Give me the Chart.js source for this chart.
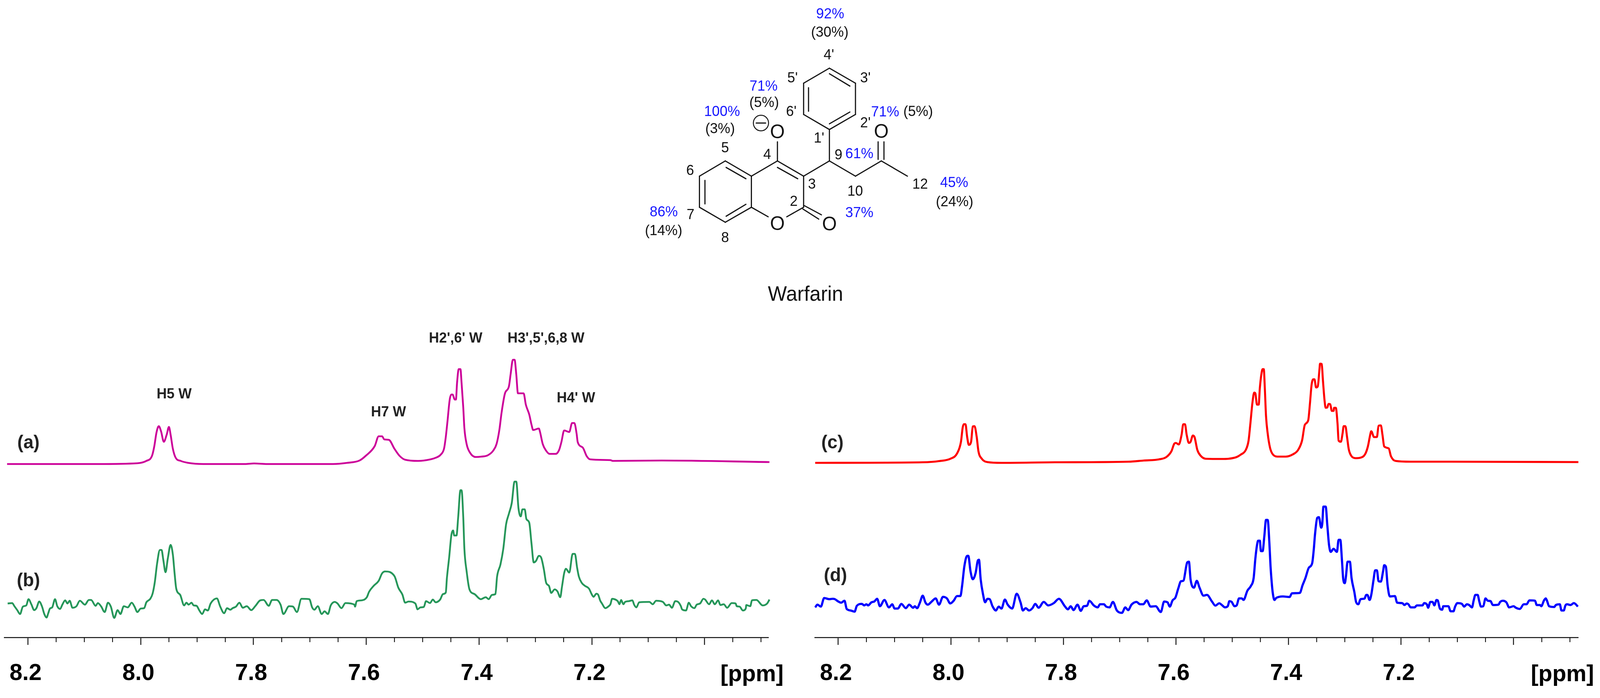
<!DOCTYPE html>
<html><head><meta charset="utf-8">
<style>
html,body{margin:0;padding:0;background:#fff;height:1787px;overflow:hidden}
canvas{position:absolute}
svg{position:absolute;left:0;top:0}
</style>
<script src="https://cdn.jsdelivr.net/npm/chart.js@4"></script>
</head><body>
<canvas id="left"></canvas>
<canvas id="right"></canvas>
<svg id="art" viewBox="0 0 4217 1787" preserveAspectRatio="none" xmlns="http://www.w3.org/2000/svg"></svg>
<script>
// [ppm, intensity]
const traceA=[[8.237,444],[8.076,444],[8.006,446],[7.990,452],[7.980,465],[7.976,489],[7.972,525],[7.968,541],[7.964,528],[7.959,501],[7.954,519],[7.950,539],[7.947,519],[7.943,483],[7.938,460],[7.929,452],[7.916,447],[7.889,444],[7.815,444],[7.799,445.5],[7.776,444],[7.659,444],[7.634,447],[7.612,453],[7.601,465],[7.585,490],[7.578,515],[7.572,515],[7.568,507],[7.560,506],[7.550,483],[7.541,465],[7.531,455],[7.508,452],[7.486,456],[7.477,460],[7.468,468],[7.462,484],[7.459,513],[7.456,553],[7.452,609],[7.449,622],[7.447,622],[7.443,609],[7.441,609],[7.439,652],[7.436,687],[7.433,687],[7.431,652],[7.428,589],[7.426,536],[7.422,495],[7.416,473],[7.406,462],[7.396,463],[7.385,466],[7.375,478],[7.369,495],[7.364,531],[7.360,576],[7.354,625],[7.347,643],[7.344,674],[7.340,711],[7.337,711],[7.334,674],[7.331,625],[7.321,625],[7.317,596],[7.311,571],[7.307,545],[7.304,531],[7.294,535],[7.292,527],[7.287,495],[7.281,478],[7.275,470],[7.264,470],[7.258,480],[7.254,500],[7.249,530],[7.240,526],[7.235,549],[7.231,549],[7.227,522],[7.225,500],[7.216,486],[7.209,464],[7.203,456],[7.167,454],[7.163,452],[7.076,453],[6.885,449]];
const traceB=[[8.236,87],[8.228,88],[8.224,80],[8.219,70],[8.214,60],[8.209,79],[8.203,82],[8.199,98],[8.194,85],[8.189,70],[8.185,75],[8.180,92],[8.175,79],[8.171,60],[8.167,51],[8.164,62],[8.161,74],[8.157,77],[8.152,98],[8.148,80],[8.143,73],[8.139,84],[8.134,95],[8.130,87],[8.126,94],[8.121,76],[8.114,80],[8.108,94],[8.099,84],[8.092,96],[8.088,96],[8.080,81],[8.076,88],[8.070,79],[8.064,65],[8.058,89],[8.053,79],[8.047,50],[8.041,70],[8.036,60],[8.030,80],[8.023,77],[8.016,89],[8.011,79],[8.006,65],[8.000,74],[7.994,75],[7.990,90],[7.983,99],[7.979,112],[7.975,142],[7.971,189],[7.966,224],[7.963,224],[7.960,199],[7.956,167],[7.952,202],[7.947,237],[7.943,212],[7.940,165],[7.937,125],[7.930,109],[7.923,82],[7.919,89],[7.915,84],[7.910,89],[7.906,82],[7.901,81],[7.896,69],[7.891,60],[7.886,72],[7.881,69],[7.876,87],[7.865,100],[7.859,79],[7.852,62],[7.847,75],[7.841,71],[7.837,75],[7.831,79],[7.825,89],[7.819,76],[7.812,80],[7.804,70],[7.797,80],[7.788,95],[7.782,96],[7.773,81],[7.767,96],[7.759,96],[7.752,84],[7.747,60],[7.737,80],[7.730,79],[7.723,65],[7.715,99],[7.701,98],[7.696,77],[7.692,71],[7.686,80],[7.679,60],[7.674,67],[7.668,60],[7.663,82],[7.656,91],[7.651,87],[7.644,75],[7.637,88],[7.621,84],[7.620,79],[7.617,93],[7.608,95],[7.599,103],[7.595,117],[7.587,132],[7.578,145],[7.572,164],[7.5665,169],[7.550,157],[7.543,127],[7.536,110],[7.531,89],[7.525,92],[7.513,87],[7.509,72],[7.504,77],[7.498,78],[7.494,93],[7.487,88],[7.482,97],[7.477,90],[7.469,97],[7.464,111],[7.459,115],[7.457,152],[7.453,205],[7.449,263],[7.446,274],[7.444,261],[7.440,261],[7.437,308],[7.433,377],[7.431,377],[7.428,308],[7.426,227],[7.422,169],[7.417,123],[7.408,111],[7.397,98],[7.388,103],[7.383,98],[7.377,109],[7.371,111],[7.368,156],[7.362,187],[7.357,227],[7.352,290],[7.347,317],[7.342,344],[7.337,399],[7.334,399],[7.330,330],[7.326,310],[7.323,328],[7.319,328],[7.316,303],[7.311,294],[7.307,241],[7.303,192],[7.299,196],[7.294,209],[7.290,205],[7.285,174],[7.281,140],[7.276,132],[7.272,114],[7.266,123],[7.261,118],[7.256,103],[7.253,129],[7.249,165],[7.246,176],[7.240,166],[7.234,214],[7.230,214],[7.226,178],[7.223,156],[7.218,140],[7.212,132],[7.205,125],[7.200,110],[7.197,104],[7.192,112],[7.189,110],[7.185,94],[7.182,87],[7.176,75],[7.171,79],[7.167,85],[7.164,99],[7.160,98],[7.154,93],[7.151,85],[7.148,96],[7.144,85],[7.141,91],[7.134,93],[7.128,95],[7.125,84],[7.121,77],[7.116,90],[7.098,91],[7.092,85],[7.086,94],[7.074,91],[7.068,82],[7.063,84],[7.058,76],[7.052,93],[7.047,91],[7.042,80],[7.040,72],[7.033,69],[7.028,89],[7.024,80],[7.018,75],[7.014,84],[7.008,87],[7.002,99],[6.999,97],[6.992,85],[6.987,95],[6.982,85],[6.976,95],[6.972,83],[6.966,85],[6.960,76],[6.952,88],[6.945,87],[6.943,80],[6.938,79],[6.932,69],[6.927,74],[6.926,83],[6.919,80],[6.916,95],[6.908,96],[6.897,82],[6.889,87],[6.885,97]];
const traceC=[[8.241,447],[8.050,448.5],[8.021,451.5],[8.000,458],[7.989,471],[7.982,501],[7.979,537],[7.977,546],[7.974,546],[7.971,513],[7.968,493],[7.964,501],[7.961,540],[7.958,541],[7.954,513],[7.951,477],[7.945,457.5],[7.935,449],[7.910,447],[7.815,448.5],[7.684,450],[7.657,453],[7.630,456],[7.617,462],[7.608,477],[7.603,496],[7.600,498],[7.595,494],[7.590,519],[7.587,546],[7.584,546],[7.581,519],[7.577,498],[7.574,501],[7.570,517],[7.567,513],[7.562,480],[7.556,465],[7.547,457.5],[7.518,457],[7.507,457.5],[7.492,462],[7.485,468],[7.476,480],[7.471,504],[7.468,544.5],[7.464,602.5],[7.461,627],[7.459,625],[7.456,596],[7.453,596],[7.451,638],[7.448,676],[7.446,687],[7.444,687],[7.442,634],[7.440,567],[7.437,522],[7.433,486.5],[7.429,471],[7.420,463],[7.405,463],[7.392,469],[7.383,480],[7.376,504],[7.371,544.5],[7.365,556],[7.362,598],[7.359,647],[7.356,661],[7.354,661],[7.351,640],[7.348,643],[7.345,687],[7.344,701],[7.341,700],[7.339,661],[7.336,607],[7.334,588],[7.331,589],[7.329,598],[7.326,597],[7.323,580],[7.320,580],[7.319,588],[7.316,588],[7.313,549],[7.311,504],[7.307,501],[7.304,522],[7.302,541],[7.299,541],[7.296,513],[7.293,482],[7.289,466],[7.281,459],[7.273,460],[7.264,469],[7.259,489],[7.255,518],[7.253,528],[7.248,513],[7.243,513],[7.240,542],[7.236,543],[7.233,518],[7.230,489],[7.222,484],[7.218,464],[7.210,452],[7.183,450],[7.114,450],[6.885,449]];
const traceD=[[8.241,77],[8.237,84],[8.231,79],[8.225,101],[8.216,98],[8.210,99],[8.206,98],[8.201,93],[8.195,89],[8.189,94],[8.185,73],[8.178,69],[8.171,66],[8.167,81],[8.158,86],[8.154,82],[8.150,85],[8.147,82],[8.141,90],[8.136,92],[8.131,99],[8.126,80],[8.118,96],[8.110,77],[8.104,85],[8.100,74],[8.094,74],[8.088,86],[8.080,75],[8.074,84],[8.067,76],[8.064,80],[8.060,75],[8.055,89],[8.050,107],[8.045,89],[8.041,84],[8.034,92],[8.027,100],[8.021,84],[8.014,104],[8.007,100],[8.001,87],[7.995,94],[7.989,106],[7.983,106],[7.980,132],[7.976,182],[7.971,209],[7.969,209],[7.965,169],[7.961,149],[7.956,165],[7.952,197],[7.950,199],[7.947,149],[7.943,112],[7.939,90],[7.935,99],[7.931,98],[7.926,80],[7.920,69],[7.915,79],[7.910,74],[7.904,97],[7.899,84],[7.891,74],[7.883,112],[7.876,89],[7.872,69],[7.867,75],[7.861,69],[7.855,75],[7.850,86],[7.844,76],[7.835,91],[7.827,82],[7.817,88],[7.808,99],[7.797,79],[7.792,72],[7.787,80],[7.782,70],[7.775,84],[7.769,68],[7.764,80],[7.758,81],[7.754,94],[7.746,82],[7.739,77],[7.735,85],[7.728,85],[7.724,79],[7.718,77],[7.712,91],[7.705,69],[7.696,63],[7.690,77],[7.685,70],[7.679,84],[7.670,91],[7.664,85],[7.658,85],[7.652,95],[7.645,79],[7.636,80],[7.627,65],[7.621,92],[7.615,90],[7.611,79],[7.606,95],[7.601,102],[7.596,125],[7.591,144],[7.587,145],[7.580,192],[7.577,194],[7.574,148],[7.568,127.5],[7.563,145],[7.558,127],[7.551,107],[7.545,109],[7.536,92],[7.530,81.5],[7.523,87.5],[7.518,82.5],[7.513,77],[7.508,80],[7.505,93],[7.501,91],[7.496,80],[7.492,82.5],[7.488,100],[7.483,100],[7.480,96],[7.473,120],[7.467,131.5],[7.462,152],[7.459,201],[7.456,236.5],[7.454,247.6],[7.451,247.6],[7.449,221],[7.446,221],[7.443,259],[7.440,301],[7.437,301],[7.434,241],[7.432,183],[7.430,143],[7.428,114],[7.425,96],[7.422,101],[7.410,105],[7.398,103.5],[7.394,113],[7.380,114],[7.375,134],[7.370,152],[7.364,178.4],[7.358,190],[7.355,227.5],[7.353,263],[7.349,306],[7.346,308],[7.342,281],[7.340,292],[7.338,335],[7.334,335],[7.331,286],[7.328,236.5],[7.325,219],[7.320,227],[7.314,219],[7.311,250],[7.308,250],[7.305,196],[7.303,152],[7.300,139],[7.298,156],[7.295,194],[7.291,194],[7.288,152],[7.283,116],[7.280,91],[7.276,85],[7.272,98],[7.265,99.4],[7.262,109],[7.260,109],[7.256,96],[7.253,109],[7.249,147],[7.246,172],[7.243,172],[7.240,144],[7.236,143],[7.232,169.5],[7.230,185],[7.227,181],[7.224,134],[7.220,105],[7.211,106],[7.207,89],[7.198,88],[7.194,83],[7.190,87],[7.187,85],[7.183,77],[7.176,77],[7.172,82],[7.162,82],[7.159,88],[7.154,84],[7.152,76],[7.148,91],[7.144,91],[7.141,82],[7.137,96],[7.135,95],[7.131,74],[7.127,71],[7.125,80],[7.116,80],[7.112,67],[7.107,67],[7.104,79],[7.100,88],[7.092,86],[7.088,79],[7.083,85],[7.079,83],[7.074,77],[7.071,95],[7.068,109],[7.064,109],[7.061,92],[7.058,79],[7.054,80],[7.050,100],[7.046,94],[7.041,93],[7.037,83],[7.027,84],[7.024,91],[7.019,94],[7.013,90],[7.008,77],[7.000,80],[6.996,76],[6.989,73],[6.982,85],[6.977,85],[6.972,95],[6.962,94],[6.959,83],[6.953,83],[6.951,80],[6.946,95],[6.943,100],[6.941,95],[6.937,80],[6.928,78],[6.925,83],[6.918,85],[6.915,69],[6.911,69],[6.908,82],[6.905,85],[6.899,83],[6.893,88],[6.889,84],[6.886,79]];
const majorTicks=[8.2,8.0,7.8,7.6,7.4,7.2,7.0];
const minorTicks=[8.15,8.1,8.05,7.95,7.9,7.85,7.75,7.7,7.65,7.55,7.5,7.45,7.35,7.3,7.25,7.15,7.1,7.05,6.95,6.9];
const tickLabels={8.2:'8.2',8:'8.0',7.8:'7.8',7.6:'7.6',7.4:'7.4',7.2:'7.2',7:''};

// The browser caps the window width, so the whole figure is fitted horizontally.
const K=Math.min(1,window.innerWidth/4217);

const minorTickPlugin={id:'minorTicks',afterDraw(c){
  const s=c.scales.x,g=c.ctx;g.save();g.strokeStyle='#111';g.lineWidth=2.2;
  minorTicks.forEach(v=>{const p=s.getPixelForValue(v);g.beginPath();g.moveTo(p,s.top);g.lineTo(p,s.top+12);g.stroke();});
  g.restore();}};

function panel(id,left,width,padL,padR,xMin,xMax,series){
  const el=document.getElementById(id);
  const w=Math.round(width*K);
  el.width=w;el.height=907;
  el.style.left=Math.round(left*K)+'px';el.style.top='880px';
  el.style.width=w+'px';el.style.height='907px';
  new Chart(el,{type:'line',plugins:[minorTickPlugin],
    data:{datasets:series.map(([pts,color,lw])=>({data:pts.map(([x,y])=>({x,y})),borderColor:color,borderWidth:lw,pointRadius:0,cubicInterpolationMode:'monotone',fill:false,clip:false}))},
    options:{responsive:false,animation:false,devicePixelRatio:1,parsing:false,normalized:true,
      layout:{padding:{left:padL*K,right:padR*K,top:20,bottom:0}},
      plugins:{legend:{display:false},tooltip:{enabled:false}},
      scales:{
        y:{display:false,min:0,max:732},
        x:{type:'linear',reverse:true,min:xMin,max:xMax,
          afterBuildTicks(s){s.ticks=majorTicks.map(v=>({value:v}));},
          afterFit(s){s.height=155;s.paddingLeft=0;s.paddingRight=0;},
          grid:{drawOnChartArea:false,drawTicks:true,tickLength:19,tickColor:'#111',tickWidth:2.4},
          border:{display:true,color:'#111',width:2.6},
          ticks:{autoSkip:false,maxRotation:0,minRotation:0,padding:38,labelOffset:-6,color:'#000',
            font:{family:'"Liberation Sans",Arial,sans-serif',size:59,weight:'bold'},
            callback:v=>tickLabels[v]}
        }}}});
}
panel('left',0,2100,12,75,6.8868,8.2415,[[traceA,'#CC0099',4.6],[traceB,'#259659',4.6]]);
panel('right',2100,2117,48,57,6.885,8.2412,[[traceC,'#FF0000',5.2],[traceD,'#0000FF',5.6]]);

// overlay: structure and annotations
const bonds=[[1911.6,412,1843.5,451],[1843.5,451,1843.5,530.6],[1843.5,530.6,1911.6,569],[1911.6,569,1980.4,530.6],[1980.4,530.6,1980.4,451],[1980.4,451,1911.6,412],[1980.4,451,2049,412],[2049,412,2118,451],[2118,451,2118,530.6],[2118,530.6,2073.7,555],[1980.4,530.6,2024.6,555],[2118,525.5,2165,550],[2116,535,2158,561],[2049,412,2049,363],[2118,451,2186,412],[2186,412,2186,331.6],[2186,412,2254.7,451],[2254.7,451,2322.8,412],[2322.8,412,2391.6,451],[2314.4,363,2314.4,408],[2329.8,363,2329.8,408],[2186,331.6,2254.7,293],[2254.7,293,2254.7,213],[2254.7,213,2186,174.5],[2186,174.5,2118,213],[2118,213,2118,293],[2118,293,2186,331.6],[1913.7,428.6,1966,457.6],[1858,461.7,1858,522],[1913.7,553.6,1966,523],[2049,428.6,2102.5,457.6],[2186,188.8,2240,220.4],[2131,224.5,2131,284.7],[2186,317,2240,286.7],[1993,315,2018,315]];
const INK='#111',BLUE='#1616ff',DARK='#222';
const notes=[['92%',2188,47,37,BLUE],['(30%)',2187,94,37,INK],["4'",2184.6,152,37,INK],["5'",2089,211,37,INK],["3'",2281,211,37,INK],['71%',2012.6,232,37,BLUE],['(5%)',2014,274.5,37,INK],['100%',1903,297.5,37,BLUE],['(3%)',1898,341,37,INK],["6'",2085.6,297.5,37,INK],["2'",2281,326.5,37,INK],['71%',2333,298.5,37,BLUE],['(5%)',2420,297.5,37,INK],["1'",2158.6,365,37,INK],['9',2210,408,37,INK],['61%',2265,404.6,37,BLUE],['4',2022,407,37,INK],['5',1911,390,37,INK],['6',1819,448,37,INK],['3',2140,483,37,INK],['10',2254,501,37,INK],['12',2425,483,37,INK],['45%',2515,478.6,37,BLUE],['(24%)',2516,528,37,INK],['2',2092,527,37,INK],['37%',2265,556,37,BLUE],['7',1820,561,37,INK],['86%',1749.5,553.6,37,BLUE],['(14%)',1749,602,37,INK],['8',1911,620,37,INK],['O',2049,354,50,INK],['O',2322.8,353,50,INK],['O',2049,589,50,INK],['O',2186,590.5,50,INK],['Warfarin',2123,770,53,INK]];
const boldNotes=[['H5 W',459,1020,37,DARK],['H7 W',1024,1066,37,DARK],["H2',6' W",1201,877,37,DARK],["H3',5',6,8 W",1439,877,37,DARK],["H4' W",1518,1030,37,DARK],['(a)',75,1148,48,DARK],['(b)',75,1501,48,DARK],['(c)',2194,1148,48,DARK],['(d)',2202,1488,48,DARK],['[ppm]',1982,1744,60,'#000'],['[ppm]',4118,1744,60,'#000']];
const NS='http://www.w3.org/2000/svg',art=document.getElementById('art');
art.setAttribute('width',Math.round(4217*K));art.setAttribute('height',1787);
function add(tag,attrs,txt){const e=document.createElementNS(NS,tag);for(const k in attrs)e.setAttribute(k,attrs[k]);if(txt)e.textContent=txt;art.appendChild(e);}
bonds.forEach(([x1,y1,x2,y2])=>add('line',{x1,y1,x2,y2,stroke:INK,'stroke-width':3,'stroke-linecap':'round'}));
add('circle',{cx:2005.6,cy:315,r:20,fill:'none',stroke:INK,'stroke-width':2.5});
const label=(bold)=>([t,x,y,s,c])=>add('text',{x,y,'font-family':'Liberation Sans, Arial, sans-serif','font-size':s,'font-weight':bold?'bold':'normal','text-anchor':'middle',fill:c},t);
notes.forEach(label(false));boldNotes.forEach(label(true));
</script>
</body></html>
